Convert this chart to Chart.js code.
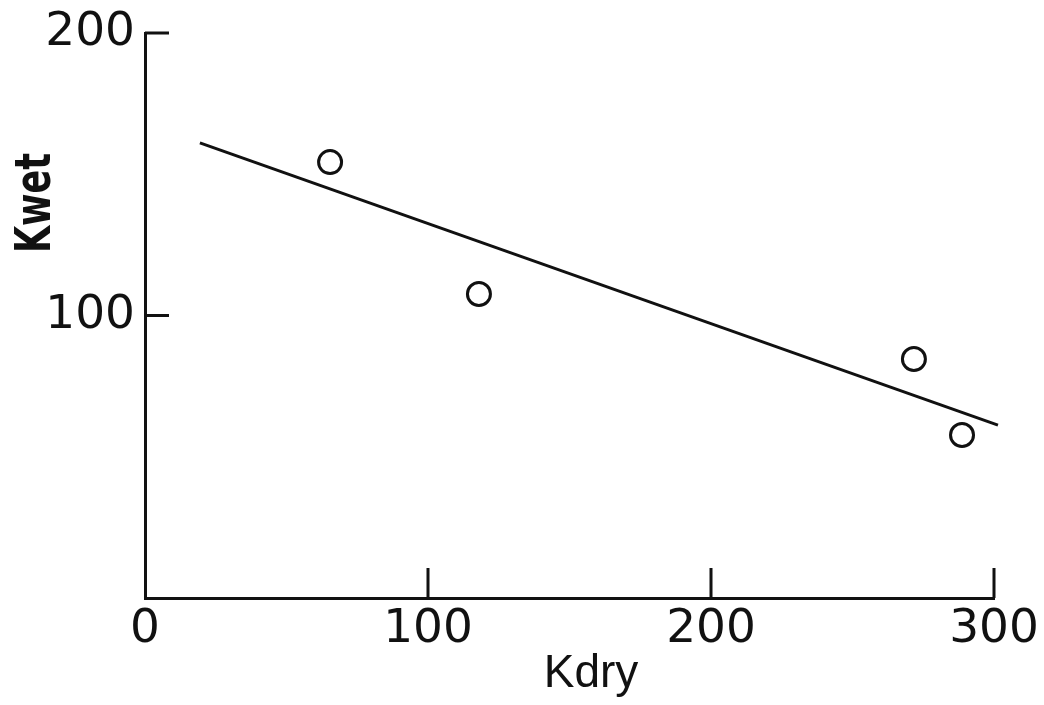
<!DOCTYPE html>
<html>
<head>
<meta charset="utf-8">
<script src="https://cdn.jsdelivr.net/npm/chart.js@4.4.1/dist/chart.umd.min.js"></script>
<style>
  body { margin: 0; background: #fff; }
  #wrap { width: 1044px; height: 705px; }
</style>
</head>
<body>
<div id="wrap"><canvas id="chart"></canvas></div>
<script>
// values
const kDry = [65.4, 118.0, 271.7, 288.7];
const kWet = [154.3, 107.6, 84.6, 57.7];
const fitX = [19.4, 301.4];
const fitY = [161.1, 61.2];
const xTicks = [0, 100, 200, 300];
const yTicks = [0, 100, 200];
const xTitle = 'Kdry';
const yTitle = 'Kwet';

const ink = '#111';

// ticks in the scan point inward, and the titles sit off-centre
const handDrawn = {
  id: 'handDrawn',
  afterDraw(chart) {
    const ctx = chart.ctx;
    const x = chart.scales.x, y = chart.scales.y;
    const left = chart.chartArea.left, bottom = chart.chartArea.bottom;
    ctx.save();
    ctx.strokeStyle = ink;
    ctx.lineWidth = 3;
    ctx.beginPath();
    yTicks.filter(v => v > 0).forEach(v => {
      const py = y.getPixelForValue(v);
      ctx.moveTo(left, py);
      ctx.lineTo(left + 24, py);
    });
    xTicks.filter(v => v > 0).forEach(v => {
      const px = x.getPixelForValue(v);
      ctx.moveTo(px, bottom);
      ctx.lineTo(px, bottom - 30);
    });
    ctx.stroke();

    ctx.fillStyle = ink;
    ctx.textAlign = 'center';
    ctx.textBaseline = 'alphabetic';
    ctx.font = '46px "Liberation Sans", sans-serif';
    ctx.fillText(xTitle, 591, 687);

    ctx.translate(50, 203);
    ctx.rotate(-Math.PI / 2);
    ctx.scale(0.78, 1);
    ctx.font = 'bold 50px "DejaVu Sans Condensed", "DejaVu Sans", sans-serif';
    ctx.fillText(yTitle, 0, 0);
    ctx.restore();
  }
};

new Chart(document.getElementById('chart'), {
  type: 'scatter',
  data: {
    datasets: [{
      type: 'line',
      data: fitX.map((v, i) => ({ x: v, y: fitY[i] })),
      borderColor: ink,
      borderWidth: 3,
      pointRadius: 0,
      fill: false,
      clip: false
    }, {
      data: kDry.map((v, i) => ({ x: v, y: kWet[i] })),
      pointStyle: 'circle',
      pointRadius: 11.5,
      pointHoverRadius: 11.5,
      pointBorderWidth: 3,
      pointBackgroundColor: 'rgba(0,0,0,0)',
      pointBorderColor: ink,
      clip: false
    }]
  },
  options: {
    responsive: true,
    maintainAspectRatio: false,
    animation: false,
    layout: { padding: { top: 33, right: 50, left: 0, bottom: 0 } },
    plugins: { legend: { display: false }, tooltip: { enabled: false } },
    scales: {
      x: {
        type: 'linear',
        min: 0,
        max: 300,
        afterBuildTicks: s => { s.ticks = xTicks.map(v => ({ value: v })); },
        afterFit: s => { s.height = 107; },
        grid: { display: false },
        border: { display: true, color: ink, width: 3 },
        ticks: {
          color: ink,
          padding: 0,
          maxRotation: 0,
          font: { family: '"DejaVu Sans"', size: 47, lineHeight: 1 }
        }
      },
      y: {
        type: 'linear',
        min: 0,
        max: 200,
        afterBuildTicks: s => { s.ticks = yTicks.map(v => ({ value: v })); },
        afterFit: s => { s.width = 145; },
        grid: { display: false },
        border: { display: true, color: ink, width: 3 },
        ticks: {
          color: ink,
          padding: 2,
          font: { family: '"DejaVu Sans"', size: 47, lineHeight: 1 },
          callback: v => (v === 0 ? '' : v)
        }
      }
    }
  },
  plugins: [handDrawn]
});
</script>
</body>
</html>
